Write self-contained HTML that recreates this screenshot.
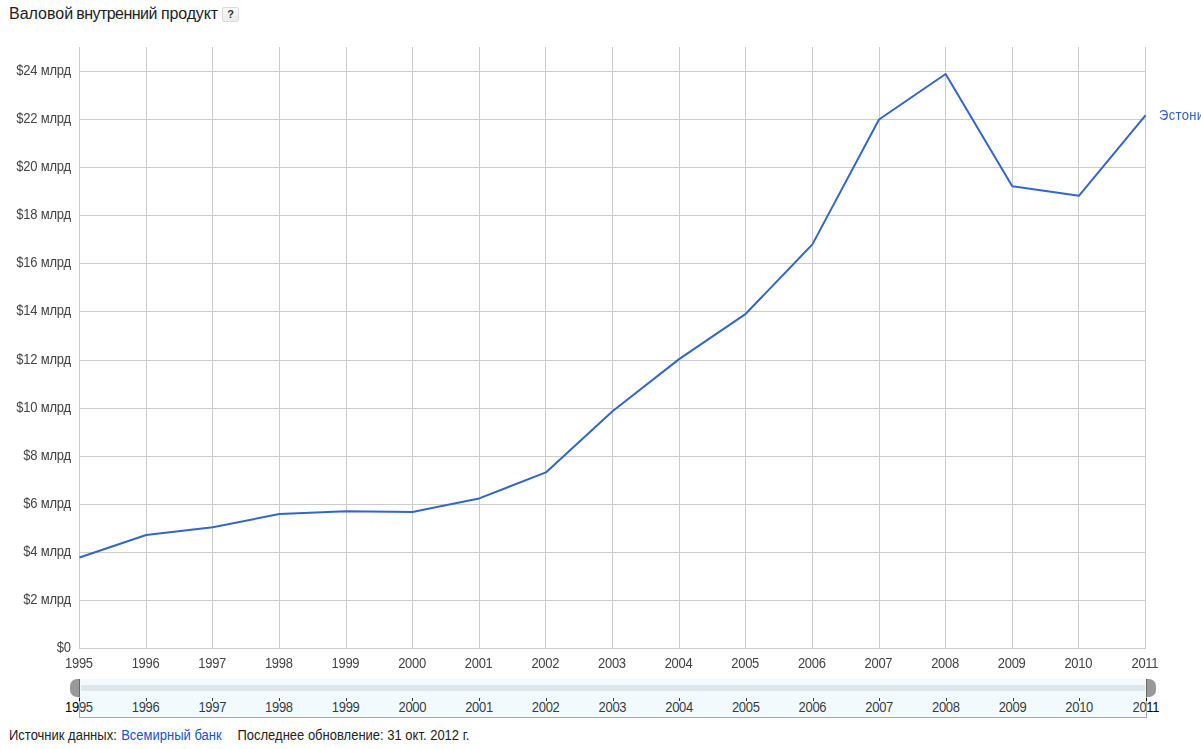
<!DOCTYPE html>
<html><head><meta charset="utf-8">
<style>
html,body{margin:0;padding:0;background:#fff;}
body{width:1201px;height:749px;position:relative;overflow:hidden;font-family:"Liberation Sans",sans-serif;color:#333;}
.title{position:absolute;top:5px;font-size:16px;line-height:18px;color:#222;white-space:nowrap;}
.q{position:absolute;left:222px;top:7px;width:15px;height:13px;border:1px solid #dcdcdc;border-radius:2px;background:linear-gradient(#f8f8f8,#ececec);font-size:11px;font-weight:bold;line-height:13px;text-align:center;color:#333;}
.v{position:absolute;top:47px;width:1px;height:602px;background:#ccc;}
.h{position:absolute;left:79px;width:1067px;height:1px;background:#ccc;}
.layer{position:absolute;left:0;top:0;width:1201px;height:749px;will-change:transform;}
.yl{position:absolute;left:0;width:70.9px;text-align:right;font-size:13px;line-height:16px;height:16px;color:#444;white-space:nowrap;letter-spacing:-0.2px;transform:scaleY(1.074);transform-origin:100% 5.3px;}
.xl{position:absolute;top:655.6px;width:60px;text-align:center;font-size:13px;line-height:16px;color:#444;letter-spacing:-0.3px;transform:scaleY(1.08);transform-origin:50% 12.4px;}
.xl2{position:absolute;top:699.7px;width:60px;text-align:center;font-size:13px;line-height:16px;color:#000;letter-spacing:-0.3px;transform:scaleY(1.08);transform-origin:50% 12.4px;}
.sl{position:absolute;left:79px;top:679px;width:1068px;height:39px;background:rgba(203,235,251,0.25);border-left:1px solid #aaa;border-bottom:1px solid #aaa;border-right:1px solid #aaa;box-sizing:border-box;}
.tr{position:absolute;left:81px;top:685px;width:1064px;height:6px;background:#dfe7eb;}
.hl{position:absolute;left:70px;top:679px;width:10px;height:18px;background:#999;border-radius:7px 0 0 7px;border-right:1px solid #666;box-sizing:border-box;}
.hr{position:absolute;left:1146px;top:679px;width:10px;height:18px;background:#999;border-radius:0 7px 7px 0;border-left:1px solid #666;box-sizing:border-box;}
.tk{position:absolute;top:698px;width:1px;height:3px;background:#000;}
.ft{position:absolute;left:9px;top:728px;font-size:13px;line-height:15px;color:#222;white-space:nowrap;transform:scaleY(1.07);transform-origin:0 12px;}
.ft a{color:#1155cc;text-decoration:none;}
.lg{position:absolute;left:1159px;top:107px;font-size:13px;line-height:16px;color:#2f62ca;white-space:nowrap;letter-spacing:0.35px;transform:scaleY(1.08);transform-origin:0 3px;}
svg{position:absolute;left:0;top:0;}
</style></head><body>
<div class="title" style="left:9px">Валовой</div>
<div class="title" style="left:76.2px;letter-spacing:-0.54px">внутренний</div>
<div class="title" style="left:161px;letter-spacing:-0.15px">продукт</div>
<div class="q">?</div>
<div class="v" style="left:79px"></div>
<div class="v" style="left:146px"></div>
<div class="v" style="left:212px"></div>
<div class="v" style="left:279px"></div>
<div class="v" style="left:346px"></div>
<div class="v" style="left:412px"></div>
<div class="v" style="left:479px"></div>
<div class="v" style="left:545px"></div>
<div class="v" style="left:612px"></div>
<div class="v" style="left:679px"></div>
<div class="v" style="left:745px"></div>
<div class="v" style="left:812px"></div>
<div class="v" style="left:879px"></div>
<div class="v" style="left:945px"></div>
<div class="v" style="left:1012px"></div>
<div class="v" style="left:1078px"></div>
<div class="v" style="left:1145px"></div>
<div class="h" style="top:71px"></div>
<div class="h" style="top:119px"></div>
<div class="h" style="top:167px"></div>
<div class="h" style="top:215px"></div>
<div class="h" style="top:263px"></div>
<div class="h" style="top:311px"></div>
<div class="h" style="top:360px"></div>
<div class="h" style="top:408px"></div>
<div class="h" style="top:456px"></div>
<div class="h" style="top:504px"></div>
<div class="h" style="top:552px"></div>
<div class="h" style="top:600px"></div>
<div class="h" style="top:648px"></div>

<svg width="1201" height="749" viewBox="0 0 1201 749"><polyline points="79.50,557.50 146.12,535.00 212.75,527.25 279.38,514.00 346.00,511.25 412.62,511.90 479.25,498.40 545.88,472.40 612.50,411.20 679.12,359.10 745.75,313.80 812.38,244.40 879.00,119.50 945.62,74.00 1012.25,186.20 1078.88,195.80 1145.50,115.40" fill="none" stroke="#3366cc" stroke-width="2" stroke-linejoin="round" stroke-linecap="butt"/></svg>
<div class="tk" style="left:79px"></div>
<div class="tk" style="left:146px"></div>
<div class="tk" style="left:212px"></div>
<div class="tk" style="left:279px"></div>
<div class="tk" style="left:346px"></div>
<div class="tk" style="left:412px"></div>
<div class="tk" style="left:479px"></div>
<div class="tk" style="left:546px"></div>
<div class="tk" style="left:613px"></div>
<div class="tk" style="left:679px"></div>
<div class="tk" style="left:746px"></div>
<div class="tk" style="left:813px"></div>
<div class="tk" style="left:879px"></div>
<div class="tk" style="left:946px"></div>
<div class="tk" style="left:1013px"></div>
<div class="tk" style="left:1079px"></div>
<div class="tk" style="left:1146px"></div>

<div class="xl2" style="left:48.90px">1995</div>
<div class="xl2" style="left:115.59px">1996</div>
<div class="xl2" style="left:182.28px">1997</div>
<div class="xl2" style="left:248.96px">1998</div>
<div class="xl2" style="left:315.65px">1999</div>
<div class="xl2" style="left:382.34px">2000</div>
<div class="xl2" style="left:449.02px">2001</div>
<div class="xl2" style="left:515.71px">2002</div>
<div class="xl2" style="left:582.40px">2003</div>
<div class="xl2" style="left:649.09px">2004</div>
<div class="xl2" style="left:715.77px">2005</div>
<div class="xl2" style="left:782.46px">2006</div>
<div class="xl2" style="left:849.15px">2007</div>
<div class="xl2" style="left:915.84px">2008</div>
<div class="xl2" style="left:982.52px">2009</div>
<div class="xl2" style="left:1049.21px">2010</div>
<div class="xl2" style="left:1115.90px">2011</div>

<div class="sl"></div>
<div class="tr"></div>
<div class="hl"></div><div class="hr"></div>
<div class="tk" style="left:79px"></div><div class="tk" style="left:1146px"></div>
<div class="ft">Источник данных: <a style="margin-left:0.8px">Всемирный банк</a><span style="margin-left:15.8px">Последнее обновление: 31 окт. 2012 г.</span></div>
<div class="layer">
<div class="yl" style="top:63px">$24 млрд</div>
<div class="yl" style="top:111px">$22 млрд</div>
<div class="yl" style="top:159px">$20 млрд</div>
<div class="yl" style="top:207px">$18 млрд</div>
<div class="yl" style="top:255px">$16 млрд</div>
<div class="yl" style="top:303px">$14 млрд</div>
<div class="yl" style="top:352px">$12 млрд</div>
<div class="yl" style="top:400px">$10 млрд</div>
<div class="yl" style="top:448px">$8 млрд</div>
<div class="yl" style="top:496px">$6 млрд</div>
<div class="yl" style="top:544px">$4 млрд</div>
<div class="yl" style="top:592px">$2 млрд</div>
<div class="yl" style="top:640px">$0</div>

<div class="xl" style="left:48.90px">1995</div>
<div class="xl" style="left:115.53px">1996</div>
<div class="xl" style="left:182.15px">1997</div>
<div class="xl" style="left:248.78px">1998</div>
<div class="xl" style="left:315.40px">1999</div>
<div class="xl" style="left:382.02px">2000</div>
<div class="xl" style="left:448.65px">2001</div>
<div class="xl" style="left:515.27px">2002</div>
<div class="xl" style="left:581.90px">2003</div>
<div class="xl" style="left:648.52px">2004</div>
<div class="xl" style="left:715.15px">2005</div>
<div class="xl" style="left:781.77px">2006</div>
<div class="xl" style="left:848.40px">2007</div>
<div class="xl" style="left:915.02px">2008</div>
<div class="xl" style="left:981.65px">2009</div>
<div class="xl" style="left:1048.28px">2010</div>
<div class="xl" style="left:1114.90px">2011</div>

<div class="lg">Эстония</div>
</div>
</body></html>
